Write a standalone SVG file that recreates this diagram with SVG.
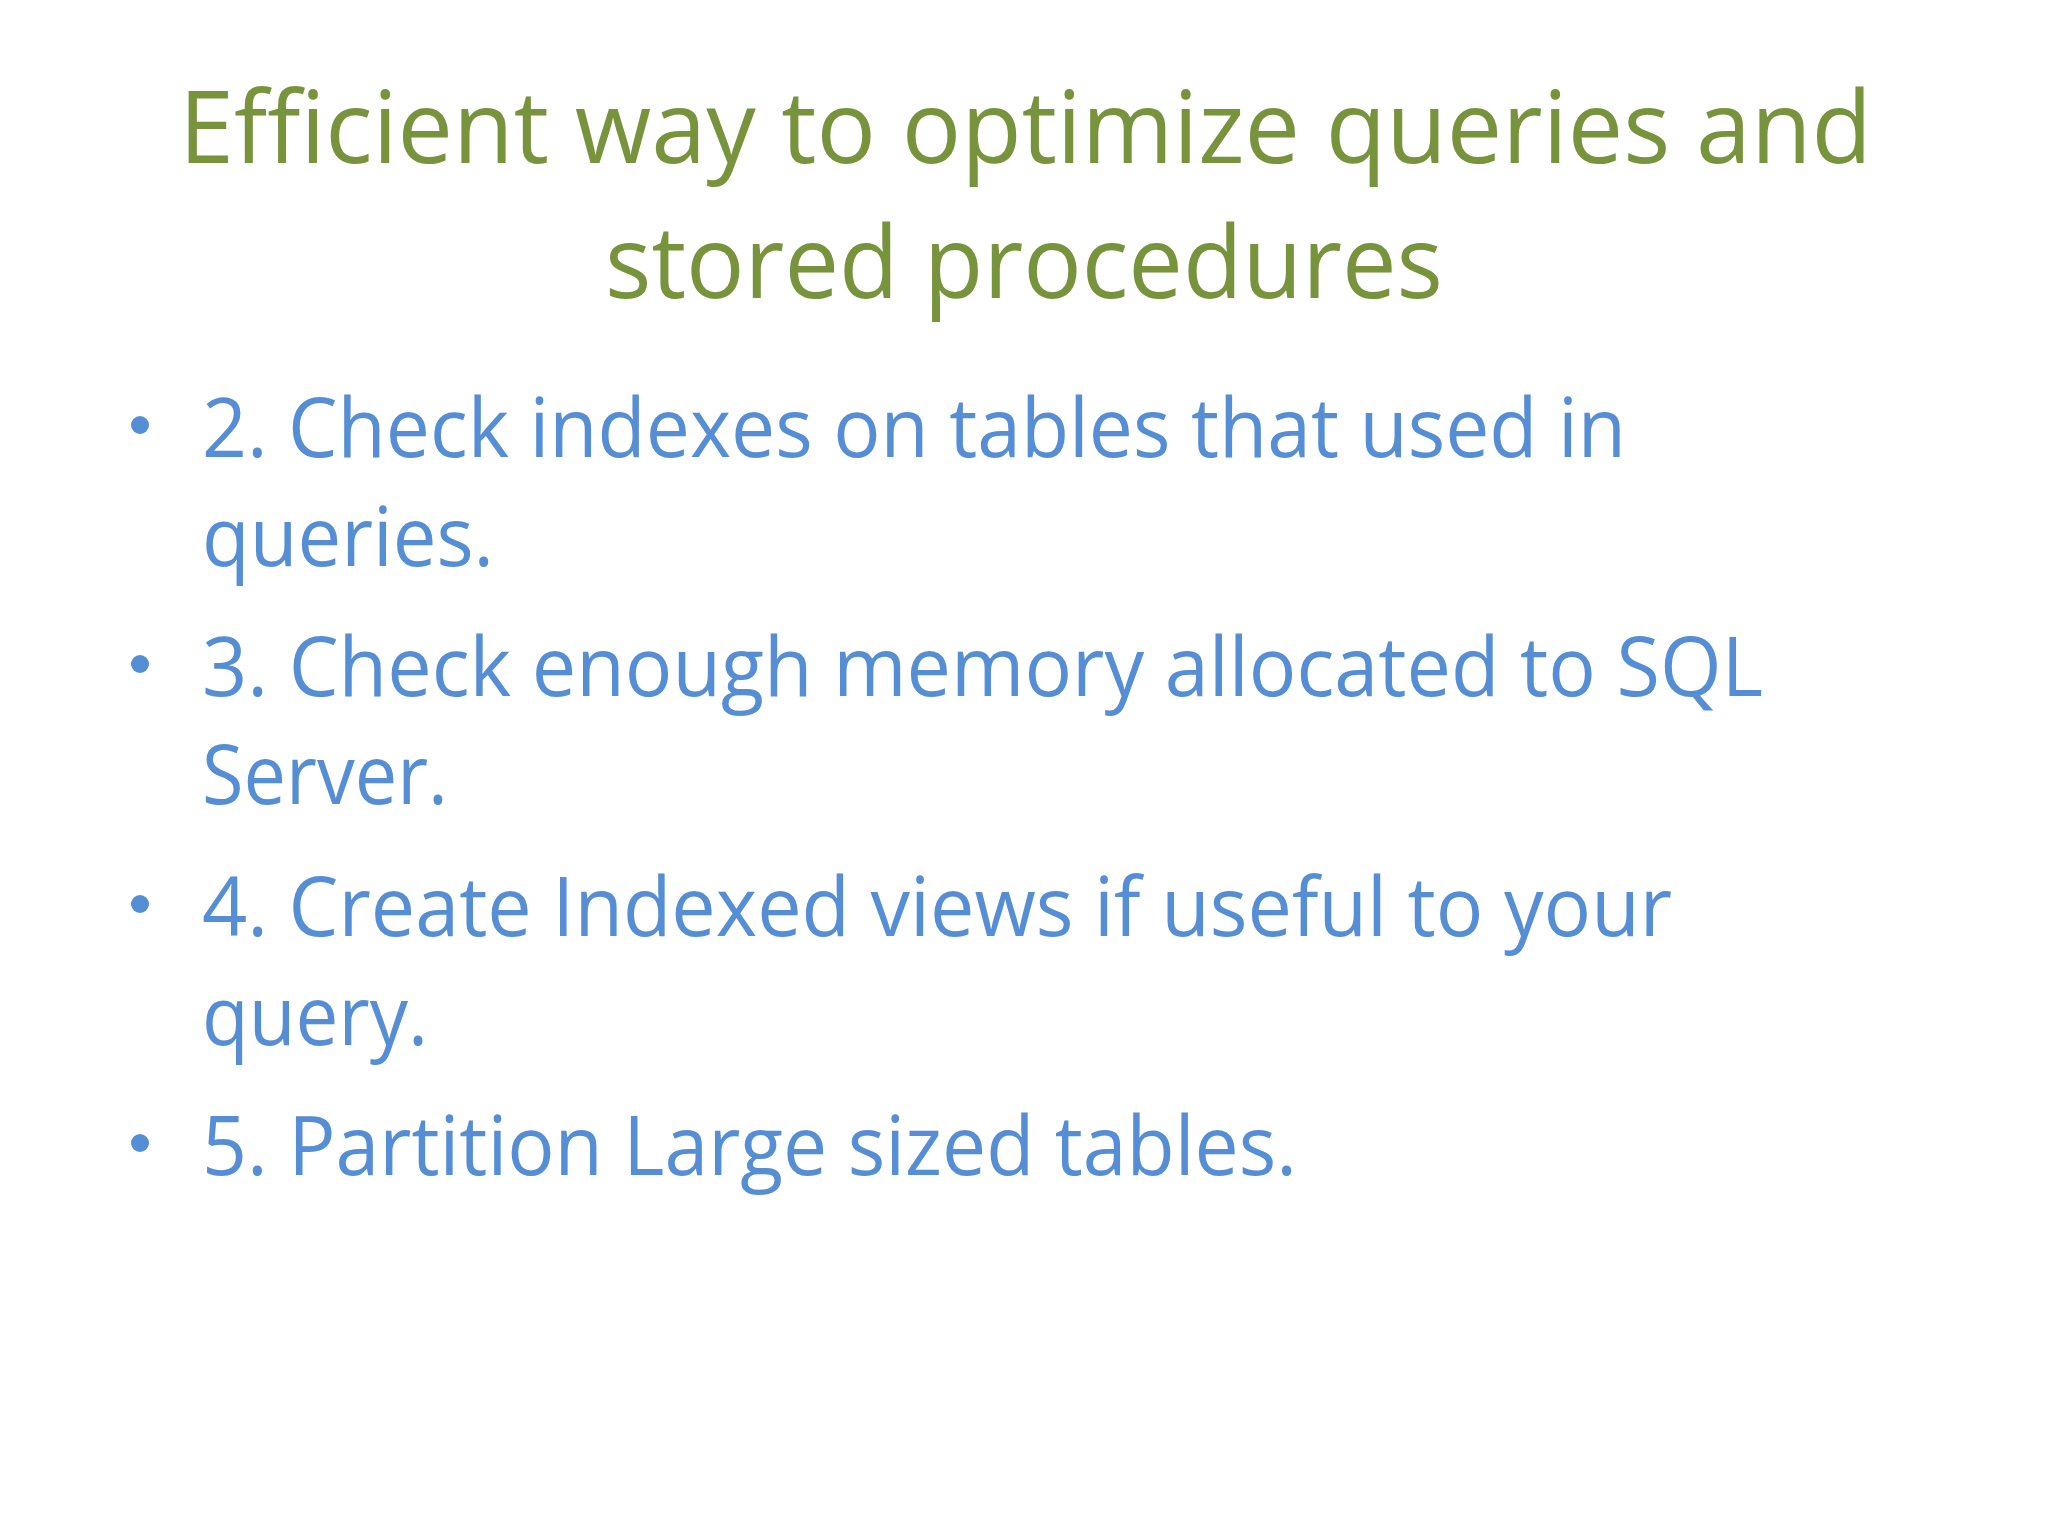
<svg xmlns="http://www.w3.org/2000/svg" width="2048" height="1536" viewBox="0 0 2048 1536">
<style>
.t{font-family:"Open Sans","Liberation Sans",sans-serif;font-size:100px;fill:#77933C}
.b{font-family:"Open Sans","Liberation Sans",sans-serif;font-size:82px;fill:#558ED5}
</style>
<rect width="2048" height="1536" fill="#ffffff"/>
<g id="title">
<text class="t" x="179" y="163" textLength="1693" lengthAdjust="spacingAndGlyphs">Efficient way to optimize queries and</text>
<text class="t" x="605" y="298" textLength="838" lengthAdjust="spacingAndGlyphs">stored procedures</text>
</g>
<g id="bullets" fill="#558ED5">
<circle cx="140" cy="425" r="9"/>
<circle cx="140" cy="664" r="9"/>
<circle cx="140" cy="904" r="9"/>
<circle cx="140" cy="1143" r="9"/>
</g>
<g id="items">
<text class="b" x="202" y="457" textLength="1424" lengthAdjust="spacingAndGlyphs">2. Check indexes on tables that used in</text>
<text class="b" x="202" y="566" textLength="292" lengthAdjust="spacingAndGlyphs">queries.</text>
<text class="b" x="202" y="696" textLength="1561" lengthAdjust="spacingAndGlyphs">3. Check enough memory allocated to SQL</text>
<text class="b" x="202" y="804" textLength="246" lengthAdjust="spacingAndGlyphs">Server.</text>
<text class="b" x="202" y="936" textLength="1470" lengthAdjust="spacingAndGlyphs">4. Create Indexed views if useful to your</text>
<text class="b" x="202" y="1045" textLength="226" lengthAdjust="spacingAndGlyphs">query.</text>
<text class="b" x="202" y="1175" textLength="1095" lengthAdjust="spacingAndGlyphs">5. Partition Large sized tables.</text>
</g>
</svg>
